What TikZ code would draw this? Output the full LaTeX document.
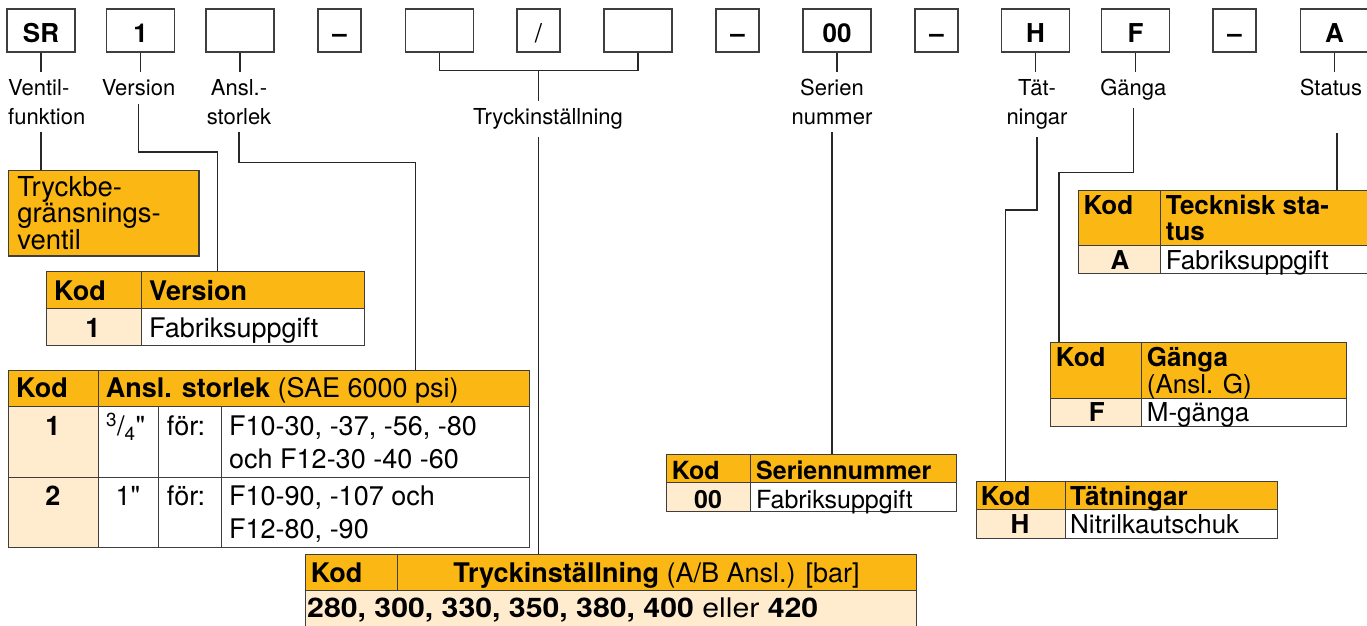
\documentclass[tikz,border=0pt]{standalone}
\usepackage{fontspec}
\setmainfont{TeX Gyre Heros}[Ligatures=TeXOff]
\usetikzlibrary{positioning}

\definecolor{kodorange}{RGB}{251,184,20}
\definecolor{kodcream}{RGB}{255,235,206}
\definecolor{rim}{RGB}{62,62,62}
\definecolor{wirec}{RGB}{40,40,40}

\tikzset{
  codebox/.style={draw=rim, line width=1.4pt, minimum width=68, minimum height=43,
    inner sep=0pt, text height=23.6pt, text depth=0pt,
    font=\bfseries\fontsize{26}{30}\selectfont},
  sepbox/.style={codebox, minimum width=43},
  lbl/.style={inner xsep=0pt, inner ysep=7.5pt, align=center,
    font=\fontsize{22}{28.7}\selectfont},
  wire/.style={draw=wirec, line width=1.1pt},
  cell/.style={draw=rim, line width=1pt, anchor=north west, inner sep=0pt},
  hd/.style={cell, fill=kodorange},
  kd/.style={cell, fill=kodcream},
  bd/.style={cell, fill=white},
  lt/.style={anchor=base west, inner sep=0pt, font=\fontsize{27}{32}\selectfont},
  lc/.style={lt, anchor=base},
  rt/.style={anchor=base west, inner sep=0pt, font=\fontsize{26}{30}\selectfont},
  rc/.style={rt, anchor=base},
  vent/.style={draw=rim, line width=1.2pt, fill=kodorange, anchor=north west,
    minimum height=85.6, text width=172.6, inner xsep=9, inner ysep=0,
    align=left, font=\fontsize{27.5}{26.7}\selectfont}
}

\begin{document}
\begin{tikzpicture}[x=1pt,y=-1pt]
\useasboundingbox (0,0) rectangle (1367,625);
\clip (0,0) rectangle (1367,625);

% type code boxes
\node[codebox] (SR)   at (41,30.5)     {SR};
\node[codebox] (ver)  at (140.5,30.5)  {1};
\node[codebox] (size) at (240,30.5)    {};
\node[sepbox]  (d1)   at (339.5,30.5)  {–};
\node[codebox] (pa)   at (439.5,30.5)  {};
\node[sepbox]  (sl)   at (538.5,30.5)  {\mdseries /};
\node[codebox] (pb)   at (638,30.5)    {};
\node[sepbox]  (d2)   at (737.5,30.5)  {–};
\node[codebox] (ser)  at (837,30.5)    {00};
\node[sepbox]  (d3)   at (936.5,30.5)  {–};
\node[codebox] (seal) at (1035.5,30.5) {H};
\node[codebox] (thr)  at (1135.5,30.5) {F};
\node[sepbox]  (d4)   at (1234.5,30.5) {–};
\node[codebox] (stat) at (1334.5,30.5) {A};

% labels under the boxes (base = last line)
\node[lbl, anchor=base west, align=left] (lSR) at (8,124.4) {Ventil-\\funktion};
\node[lbl, anchor=base] (lVer)  at (138.5,95.7)  {Version};
\node[lbl, anchor=base] (lAnsl) at (239,124.4)   {Ansl.-\\storlek};
\node[lbl, anchor=base] (lTry)  at (548,124.4)   {Tryckinställning};
\node[lbl, anchor=base] (lSer)  at (832,124.4)   {Serien\\nummer};
\node[lbl, anchor=base] (lSeal) at (1037,124.4)  {Tät-\\ningar};
\node[lbl, anchor=base] (lThr)  at (1133.3,95.7) {Gänga};
\node[lbl, anchor=base] (lStat) at (1331,95.7)   {Status};

% valve function
\node[vent] (vent) at (7.7,169.7) {Tryckbe-\\gränsnings-\\ventil};

% version table
\node[hd, minimum width=94.5, minimum height=37]  (verK) at (46,271)    {};
\node[hd, minimum width=223.5, minimum height=37] (verH) at (140.5,271) {};
\node[kd, minimum width=94.5, minimum height=37]  (verC) at (46,308)    {};
\node[bd, minimum width=223.5, minimum height=37] (verD) at (140.5,308) {};
\node[lt] (verKt) at (54,300)    {\textbf{Kod}};
\node[lt] (verHt) at (149,300)   {\textbf{Version}};
\node[lc] (verCt) at (93,337.5)  {\textbf{1}};
\node[lt] (verDt) at (149,337.5) {Fabriksuppgift};

% port size table
\node[hd, minimum width=90.4, minimum height=36.5]  (anK)  at (7.6,369.5) {};
\node[hd, minimum width=431, minimum height=36.5]   (anH)  at (98,369.5)  {};
\node[kd, minimum width=90.4, minimum height=71]    (anC1) at (7.6,406)   {};
\node[bd, minimum width=60.4, minimum height=71]    (anS1) at (98,406)    {};
\node[bd, minimum width=62.3, minimum height=71]    (anF1) at (158.4,406) {};
\node[bd, minimum width=308.3, minimum height=71]   (anD1) at (220.7,406) {};
\node[kd, minimum width=90.4, minimum height=70]    (anC2) at (7.6,477)   {};
\node[bd, minimum width=60.4, minimum height=70]    (anS2) at (98,477)    {};
\node[bd, minimum width=62.3, minimum height=70]    (anF2) at (158.4,477) {};
\node[bd, minimum width=308.3, minimum height=70]   (anD2) at (220.7,477) {};
\node[lt] (anKt)  at (16,397.7)    {\textbf{Kod}};
\node[lt] (anHt)  at (105.7,397.7) {\textbf{Ansl. storlek} (SAE 6000 psi)};
\node[lc] (anC1t) at (52.8,435.6)  {\textbf{1}};
\node[lt] (anS1t) at (106,435.6)   {\textsuperscript{3}/\textsubscript{4}"};
\node[lt] (anF1t) at (166.7,435.6) {för:};
\node[lt] (anD1a) at (229,435.6)   {F10-30, -37, -56, -80};
\node[lt] (anD1b) at (229,468.3)   {och F12-30 -40 -60};
\node[lc] (anC2t) at (52.8,505)    {\textbf{2}};
\node[lc] (anS2t) at (128,505)     {1"};
\node[lt] (anF2t) at (166.7,505)   {för:};
\node[lt] (anD2a) at (229,505)     {F10-90, -107 och};
\node[lt] (anD2b) at (229,538)     {F12-80, -90};

% pressure setting table
\node[hd, minimum width=92, minimum height=35.7]    (trK) at (304.7,554.3) {};
\node[hd, minimum width=519.3, minimum height=35.7] (trH) at (396.7,554.3) {};
\node[kd, minimum width=611.3, minimum height=60]   (trV) at (304.7,590)   {};
\node[lt] (trKt) at (310.7,582.7) {\textbf{Kod}};
\node[lc] (trHt) at (656.5,582.7) {\textbf{Tryckinställning} (A/B Ansl.) [bar]};
\node[lt] (trVt) at (307,617.3)
  {\scalebox{1.12}[1]{\textbf{280, 300, 330, 350, 380, 400} eller \textbf{420}}};

% serial number table
\node[hd, minimum width=84, minimum height=28.3]    (seK) at (666,454)   {};
\node[hd, minimum width=205.7, minimum height=28.3] (seH) at (750,454)   {};
\node[kd, minimum width=84, minimum height=28.4]    (seC) at (666,482.3) {};
\node[bd, minimum width=205.7, minimum height=28.4] (seD) at (750,482.3) {};
\node[rt, font=\fontsize{25}{29}\selectfont] (seKt) at (671.7,479.3) {\textbf{Kod}};
\node[rt, font=\fontsize{25}{29}\selectfont] (seHt) at (756,479.3)   {\textbf{Seriennummer}};
\node[rc, font=\fontsize{25}{29}\selectfont] (seCt) at (708,508.3)   {\textbf{00}};
\node[rt, font=\fontsize{25}{29}\selectfont] (seDt) at (756,508.3)   {Fabriksuppgift};

% seals table
\node[hd, minimum width=89.3, minimum height=28.3] (sgK) at (975.7,481)   {};
\node[hd, minimum width=212, minimum height=28.3]  (sgH) at (1065,481)    {};
\node[kd, minimum width=89.3, minimum height=28.4] (sgC) at (975.7,509.3) {};
\node[bd, minimum width=212, minimum height=28.4]  (sgD) at (1065,509.3)  {};
\node[rt] (sgKt) at (980.7,505)  {\textbf{Kod}};
\node[rt] (sgHt) at (1070,505)   {\textbf{Tätningar}};
\node[rc] (sgCt) at (1020,533.3) {\textbf{H}};
\node[rt] (sgDt) at (1070,533.3) {Nitrilkautschuk};

% thread table
\node[hd, minimum width=91, minimum height=55.4]    (thK) at (1050.3,342.3) {};
\node[hd, minimum width=204.4, minimum height=55.4] (thH) at (1141.3,342.3) {};
\node[kd, minimum width=91, minimum height=28.3]    (thC) at (1050.3,397.7) {};
\node[bd, minimum width=204.4, minimum height=28.3] (thD) at (1141.3,397.7) {};
\node[rt] (thKt) at (1055.7,366)   {\textbf{Kod}};
\node[rt] (thHt) at (1146.7,366)   {\textbf{Gänga}};
\node[rt] (thHs) at (1146.7,393.3) {(Ansl. G)};
\node[rc] (thCt) at (1096.7,421.7) {\textbf{F}};
\node[rt] (thDt) at (1146.7,421.7) {M-gänga};

% status table
\node[hd, minimum width=82, minimum height=55.3]  (stK) at (1078.3,190)   {};
\node[hd, minimum width=215, minimum height=55.3] (stH) at (1160.3,190)   {};
\node[kd, minimum width=82, minimum height=28]    (stC) at (1078.3,245.3) {};
\node[bd, minimum width=215, minimum height=28]   (stD) at (1160.3,245.3) {};
\node[rt] (stKt) at (1083.3,214.3) {\textbf{Kod}};
\node[rt] (stHt) at (1165.7,214.3) {\textbf{Tecknisk sta-}};
\node[rt] (stHs) at (1165.7,240)   {\textbf{tus}};
\node[rc] (stCt) at (1120,269)     {\textbf{A}};
\node[rt] (stDt) at (1165.7,269)   {Fabriksuppgift};

% connectors
\coordinate (verIn)  at (217.7,271);
\coordinate (anslIn) at (415.7,369.5);
\coordinate (sealIn) at (1005.5,481);
\coordinate (thrIn)  at (1059,342.3);
\coordinate (statOut) at (1337,133);

\draw[wire] (SR.south) -- (SR.south |- lSR.north);
\draw[wire] (SR.south |- lSR.south) -- (SR.south |- vent.north);
\draw[wire] (ver.south) -- (ver.south |- lVer.north);
\draw[wire] (lVer.south) -- (lVer.south |- 0,152) -| (verIn);
\draw[wire] (size.south) -- (size.south |- lAnsl.north);
\draw[wire] (lAnsl.south) -- (lAnsl.south |- 0,162.7) -| (anslIn);
\draw[wire] (pa.south) -- (pa.south |- 0,70.7) -| (pb.south);
\draw[wire] (sl.south |- 0,70.7) -- (sl.south |- lTry.north);
\draw[wire] (sl.south |- lTry.south) -- (sl.south |- trH.north);
\draw[wire] (ser.south) -- (ser.south |- lSer.north);
\draw[wire] (lSer.south) -- (lSer.south |- seH.north);
\draw[wire] (seal.south) -- (seal.south |- lSeal.north);
\draw[wire] (lSeal.south) -- (lSeal.south |- 0,210) -| (sealIn);
\draw[wire] (thr.south) -- (thr.south |- lThr.north);
\draw[wire] (lThr.south) -- (lThr.south |- 0,172.3) -| (thrIn);
\draw[wire] (stat.south) -- (stat.south |- lStat.north);
\draw[wire] (statOut) -- (statOut |- stH.north);
\end{tikzpicture}
\end{document}
